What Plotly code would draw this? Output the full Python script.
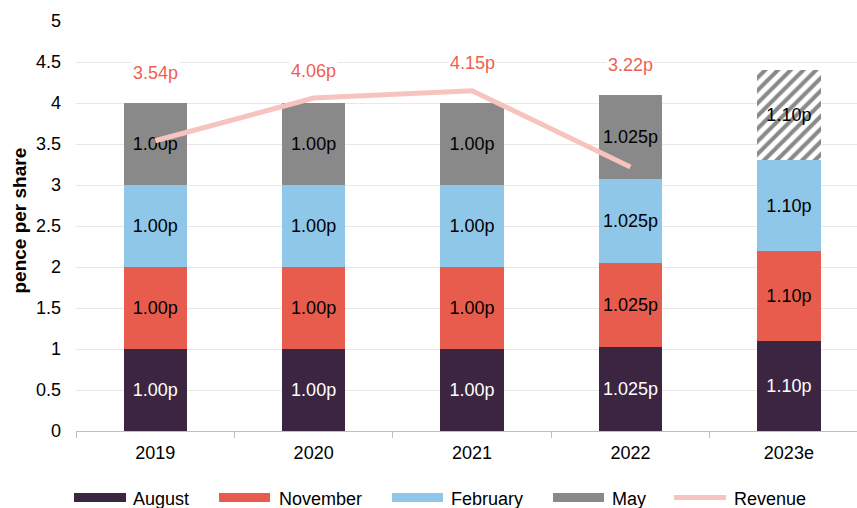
import plotly.graph_objects as go

# ---- data ----
years = ["2019", "2020", "2021", "2022", "2023e"]
august = [1.00, 1.00, 1.00, 1.025, 1.10]
november = [1.00, 1.00, 1.00, 1.025, 1.10]
february = [1.00, 1.00, 1.00, 1.025, 1.10]
may = [1.00, 1.00, 1.00, 1.025, 1.10]
rev_years = ["2019", "2020", "2021", "2022"]
revenue = [3.54, 4.06, 4.15, 3.22]
rev_labels = ["3.54p", "4.06p", "4.15p", "3.22p"]
seg_labels = ["1.00p", "1.00p", "1.00p", "1.025p", "1.10p"]
y_ticks = [0, 0.5, 1, 1.5, 2, 2.5, 3, 3.5, 4, 4.5, 5]
y_tick_text = ["0", "0.5", "1", "1.5", "2", "2.5", "3", "3.5", "4", "4.5", "5"]

# ---- style ----
C_AUG = "#3C2541"
C_NOV = "#E85C4D"
C_FEB = "#8FC7E8"
C_MAY = "#898989"
C_REV = "#F7C3BF"
C_LBL = "#EE5F50"
FONT = "Liberation Sans, Arial, sans-serif"
FS = 18

W, H = 857, 508
ML, MR, MT, MB = 76, 0, 21, 77
PW, PH = W - ML - MR, H - MT - MB
label_heights = [4.37, 4.39, 4.49, 4.46]


def px(x):
    return (x - ML) / PW


def py(y):
    return (H - MB - y) / PH


fig = go.Figure()

def bar(vals, color, txtcolor, name, pattern=None):
    marker = dict(color=color, line=dict(width=0))
    if pattern is not None:
        marker["pattern"] = pattern
    fig.add_trace(go.Bar(
        x=years, y=vals, name=name, marker=marker,
        text=seg_labels, textposition="inside", insidetextanchor="middle",
        textfont=dict(family=FONT, size=FS, color=txtcolor),
        width=0.4, showlegend=False, hoverinfo="skip", textangle=0,
    ))

bar(august, C_AUG, "white", "August")
bar(november, C_NOV, "black", "November")
bar(february, C_FEB, "black", "February")
bar(may, C_MAY, "black", "May",
    pattern=dict(shape=["", "", "", "", "/"], fgcolor=C_MAY,
                 bgcolor=[C_MAY, C_MAY, C_MAY, C_MAY, "white"],
                 size=9, solidity=0.45, fillmode="replace"))

fig.add_trace(go.Scatter(
    x=rev_years, y=revenue, mode="lines", name="Revenue",
    line=dict(color=C_REV, width=5), showlegend=False, hoverinfo="skip",
))

annotations = []
for yr, lab, hy in zip(rev_years, rev_labels, label_heights):
    annotations.append(dict(
        x=years.index(yr), y=hy, xref="x", yref="y", text=lab, showarrow=False,
        font=dict(family=FONT, size=FS, color=C_LBL), bgcolor="white",
        xanchor="center", yanchor="middle",
    ))

# y-axis title
annotations.append(dict(
    x=px(18.5), y=py(220), xref="paper", yref="paper", text="<b>pence per share</b>",
    textangle=-90, showarrow=False, font=dict(family=FONT, size=19, color="black"),
    xanchor="center", yanchor="middle",
))

# manual legend
legend_items = [
    ("August", C_AUG, 74, 126, 131, "box"),
    ("November", C_NOV, 219, 270, 277, "box"),
    ("February", C_FEB, 392, 443, 449, "box"),
    ("May", C_MAY, 553, 604, 610, "box"),
    ("Revenue", C_REV, 674, 726, 732, "line"),
]
shapes = []
LEG_Y = 497.5
for name, col, x0, x1, tx, kind in legend_items:
    if kind == "box":
        shapes.append(dict(type="rect", xref="paper", yref="paper",
                           x0=px(x0), x1=px(x1), y0=py(LEG_Y - 4.5), y1=py(LEG_Y + 4.5),
                           fillcolor=col, line=dict(width=0)))
    else:
        shapes.append(dict(type="line", xref="paper", yref="paper",
                           x0=px(x0), x1=px(x1), y0=py(LEG_Y), y1=py(LEG_Y),
                           line=dict(color=col, width=5)))
    annotations.append(dict(x=px(tx), y=py(LEG_Y + 1.5), xref="paper", yref="paper", text=name,
                            showarrow=False, xanchor="left", yanchor="middle",
                            font=dict(family=FONT, size=FS, color="black")))

fig.update_layout(
    width=W, height=H, barmode="stack",
    margin=dict(l=ML, r=MR, t=MT, b=MB, pad=0),
    paper_bgcolor="white", plot_bgcolor="white",
    font=dict(family=FONT, size=FS, color="black"),
    annotations=annotations, shapes=shapes, showlegend=False,
    xaxis=dict(type="category", range=[-0.5, 4.43], tickson="boundaries",
               ticks="outside", ticklen=6, tickcolor="#BFBFBF",
               showline=True, linecolor="#BFBFBF", linewidth=1,
               showgrid=False, tickfont=dict(family=FONT, size=FS, color="black"),
               ticklabelstandoff=5, fixedrange=True),
    yaxis=dict(range=[0, 5], tickvals=y_ticks, ticktext=y_tick_text,
               showgrid=True, gridcolor="#E8E8E8", gridwidth=1.3, zeroline=False,
               showline=False, ticks="", ticklabelstandoff=14,
               tickfont=dict(family=FONT, size=FS, color="black"), fixedrange=True),
)

fig.write_html("out.html")
